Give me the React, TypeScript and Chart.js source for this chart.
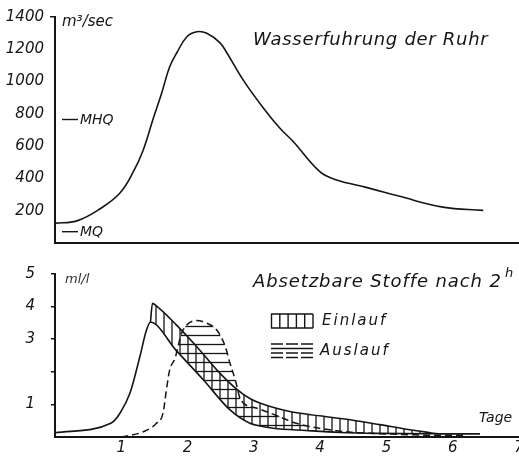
import React, { useEffect, useRef } from 'react';
import { Chart, registerables } from 'chart.js';

Chart.register(...registerables);

const INK = '#151515';
const FONT = '"DejaVu Sans", sans-serif';

// ---------- top chart: discharge of the Ruhr ----------
const flowDays = [0, 0.33, 0.68, 0.98, 1.18, 1.33, 1.48, 1.61, 1.73, 1.84, 1.99, 2.14, 2.29, 2.49, 2.59, 2.84, 3.14, 3.39, 3.59, 4.0, 4.25, 4.71, 5.2, 5.85, 6.46];
const flowValues = [123, 137, 212, 310, 440, 575, 768, 929, 1092, 1180, 1278, 1309, 1299, 1240, 1180, 1009, 838, 712, 630, 440, 390, 343, 289, 222, 202];
const flowYTickLabels = ['', '200', '400', '600', '800', '1000', '1200', '1400'];
const MHQ_VALUE = 765;
const MQ_VALUE = 70;
const MHQ_LABEL = 'MHQ';
const MQ_LABEL = 'MQ';
const TOP_TITLE = 'Wasserfuhrung der Ruhr';
const TOP_UNIT = 'm³/sec';

// ---------- bottom chart: settleable solids ----------
const einLowDays = [0, 0.85, 0.98, 1.13, 1.28, 1.38, 1.44, 1.83, 2.24, 2.64, 2.94, 3.09, 3.29, 3.79, 4.3, 4.9, 5.6, 6.41];
const einLowVals = [0.13, 0.43, 0.73, 1.34, 2.46, 3.28, 3.52, 2.65, 1.75, 0.83, 0.42, 0.34, 0.27, 0.2, 0.14, 0.11, 0.1, 0.1];
const einUpDays = [1.44, 1.47, 1.53, 1.83, 2.14, 2.44, 2.74, 2.94, 3.09, 3.54, 3.99, 4.45, 4.9, 5.3, 5.6, 5.81, 6.41];
const einUpVals = [3.52, 4.1, 4.02, 3.44, 2.77, 2.06, 1.47, 1.18, 1.04, 0.78, 0.65, 0.53, 0.38, 0.24, 0.15, 0.1, 0.1];
const ausDays = [1.0, 1.33, 1.53, 1.63, 1.68, 1.73, 1.81, 1.91, 1.99, 2.14, 2.29, 2.44, 2.57, 2.64, 2.72, 2.8, 3.05, 3.39, 3.64, 4.3, 5.2, 5.8, 6.2];
const ausVals = [0.0, 0.16, 0.42, 0.73, 1.44, 2.06, 2.41, 3.18, 3.44, 3.57, 3.49, 3.28, 2.77, 2.26, 1.75, 1.15, 0.88, 0.62, 0.42, 0.18, 0.08, 0.05, 0.05];
const dayTickLabels = ['', '1', '2', '3', '4', '5', '6', '7'];
const sedYTickLabels = ['', '1', '', '3', '4', '5'];
const BOTTOM_TITLE = 'Absetzbare Stoffe nach 2';
const BOTTOM_TITLE_SUP = 'h';
const BOTTOM_UNIT = 'ml/l';
const X_UNIT = 'Tage';
const LEGEND_IN = 'Einlauf';
const LEGEND_OUT = 'Auslauf';

function pts(xs: number[], ys: number[]) {
  return xs.map((x, i) => ({ x, y: ys[i] }));
}

function makePattern(kind: 'v' | 'h', size: number): CanvasPattern | string {
  const c = document.createElement('canvas');
  c.width = size;
  c.height = size;
  const g = c.getContext('2d');
  if (!g) return INK;
  g.strokeStyle = INK;
  g.lineWidth = 1.3;
  g.beginPath();
  if (kind === 'v') {
    g.moveTo(size / 2, 0);
    g.lineTo(size / 2, size);
  } else {
    g.moveTo(0, size / 2);
    g.lineTo(size, size / 2);
  }
  g.stroke();
  const p = g.createPattern(c, 'repeat');
  return p || INK;
}

const italic = (size: number) => ({ family: FONT, size, style: 'italic' as const, weight: 'normal' as const });

const topDecor = {
  id: 'topDecor',
  afterDraw(chart: any) {
    const { ctx, scales } = chart;
    const y = scales.y;
    ctx.save();
    ctx.fillStyle = INK;
    ctx.strokeStyle = INK;
    ctx.textBaseline = 'alphabetic';
    ctx.textAlign = 'left';
    ctx.font = `italic 15px ${FONT}`;
    ctx.fillText(TOP_UNIT, 62, 26);
    ctx.font = `italic 18px ${FONT}`;
    (ctx as any).letterSpacing = '0.7px';
    ctx.fillText(TOP_TITLE, 253, 45);
    (ctx as any).letterSpacing = '0px';
    ctx.font = `italic 14px ${FONT}`;
    ctx.textBaseline = 'middle';
    ctx.lineWidth = 1.4;
    const markers: [number, string][] = [[MHQ_VALUE, MHQ_LABEL], [MQ_VALUE, MQ_LABEL]];
    markers.forEach(([v, label]) => {
      const py = y.getPixelForValue(v);
      ctx.beginPath();
      ctx.moveTo(62, py);
      ctx.lineTo(78, py);
      ctx.stroke();
      ctx.fillText(label, 80, py + 1);
    });
    ctx.restore();
  },
};

const bottomDecor = {
  id: 'bottomDecor',
  afterDraw(chart: any) {
    const { ctx } = chart;
    ctx.save();
    ctx.fillStyle = INK;
    ctx.strokeStyle = INK;
    ctx.textAlign = 'left';
    ctx.textBaseline = 'alphabetic';
    ctx.fillStyle = '#333';
    ctx.font = `italic 13px ${FONT}`;
    ctx.fillText(BOTTOM_UNIT, 65, 33);
    ctx.fillStyle = INK;
    ctx.font = `italic 18px ${FONT}`;
    (ctx as any).letterSpacing = '0.9px';
    ctx.fillText(BOTTOM_TITLE, 253, 37);
    (ctx as any).letterSpacing = '0px';
    ctx.font = `italic 13px ${FONT}`;
    ctx.fillText(BOTTOM_TITLE_SUP, 505, 27);

    ctx.font = `italic 14px ${FONT}`;
    ctx.fillText(X_UNIT, 479, 172);

    // legend: Einlauf box (vertical hatching)
    ctx.lineWidth = 1.4;
    ctx.beginPath();
    ctx.moveTo(271, 64);
    ctx.lineTo(313, 64);
    ctx.moveTo(271, 78);
    ctx.lineTo(313, 78);
    for (let i = 0; i <= 5; i++) {
      const x = 271.5 + i * 8.3;
      ctx.moveTo(x, 64);
      ctx.lineTo(x, 78);
    }
    ctx.stroke();
    // legend: Auslauf (horizontal lines)
    const rows: [number, boolean][] = [[94, true], [98.5, false], [103, true], [107.5, true]];
    rows.forEach(([ry, dashed]) => {
      ctx.setLineDash(dashed ? [12, 3] : []);
      ctx.beginPath();
      ctx.moveTo(271, ry);
      ctx.lineTo(313, ry);
      ctx.stroke();
    });
    ctx.setLineDash([]);
    ctx.textBaseline = 'middle';
    ctx.font = `italic 15px ${FONT}`;
    (ctx as any).letterSpacing = '2px';
    ctx.fillText(LEGEND_IN, 322, 71);
    ctx.fillText(LEGEND_OUT, 320, 101);
    ctx.restore();
  },
};

export default function App() {
  const topRef = useRef<HTMLCanvasElement | null>(null);
  const botRef = useRef<HTMLCanvasElement | null>(null);

  useEffect(() => {
    if (!topRef.current || !botRef.current) return;

    const top = new Chart(topRef.current, {
      type: 'line',
      data: {
        datasets: [
          {
            data: pts(flowDays, flowValues),
            borderColor: INK,
            borderWidth: 1.6,
            pointRadius: 0,
            tension: 0.4,
            fill: false,
          },
        ],
      },
      options: {
        responsive: false,
        animation: false,
        devicePixelRatio: 1,
        layout: { padding: { top: 17, left: 0, right: 0, bottom: 0 } },
        plugins: { legend: { display: false }, tooltip: { enabled: false }, title: { display: false } },
        scales: {
          x: {
            type: 'linear',
            min: 0,
            max: 7,
            ticks: { display: false },
            grid: { display: false },
            border: { display: true, color: INK, width: 2 },
            afterFit: (s: any) => {
              s.height = 7;
              s.paddingLeft = 0;
              s.paddingRight = 0;
            },
          },
          y: {
            type: 'linear',
            min: 0,
            max: 1400,
            ticks: {
              stepSize: 200,
              color: INK,
              font: italic(15),
              padding: 6,
              callback: (v: any) => flowYTickLabels[Math.round(Number(v) / 200)] ?? '',
            },
            grid: {
              display: true,
              drawOnChartArea: false,
              drawTicks: true,
              tickLength: 5,
              lineWidth: 1.5,
              color: (c: any) => (c.tick && c.tick.value === 1400 ? INK : 'rgba(0,0,0,0)'),
            },
            border: { display: true, color: INK, width: 2 },
            afterFit: (s: any) => {
              s.width = 55;
              s.paddingTop = 0;
              s.paddingBottom = 0;
            },
          },
        },
      } as any,
      plugins: [topDecor],
    });

    const vPat = makePattern('v', 8);
    const hPat = makePattern('h', 9);

    const bot = new Chart(botRef.current, {
      type: 'line',
      data: {
        datasets: [
          {
            data: pts(einLowDays, einLowVals),
            borderColor: INK,
            borderWidth: 1.6,
            pointRadius: 0,
            cubicInterpolationMode: 'monotone',
            fill: false,
          },
          {
            data: pts(einUpDays, einUpVals),
            borderColor: INK,
            borderWidth: 1.6,
            pointRadius: 0,
            cubicInterpolationMode: 'monotone',
            fill: { target: 0, above: vPat, below: vPat },
          },
          {
            data: pts(ausDays, ausVals),
            borderColor: INK,
            borderWidth: 1.5,
            borderDash: [7, 4],
            pointRadius: 0,
            cubicInterpolationMode: 'monotone',
            fill: { target: 0, above: hPat, below: 'rgba(0,0,0,0)' },
          },
        ],
      },
      options: {
        responsive: false,
        animation: false,
        devicePixelRatio: 1,
        layout: { padding: { top: 24, left: 0, right: 0, bottom: 0 } },
        plugins: {
          legend: { display: false },
          tooltip: { enabled: false },
          filler: { drawTime: 'beforeDatasetsDraw' },
        },
        scales: {
          x: {
            type: 'linear',
            min: 0,
            max: 7,
            ticks: {
              stepSize: 1,
              color: INK,
              font: italic(15),
              padding: 2,
              maxRotation: 0,
              autoSkip: false,
              callback: (v: any) => dayTickLabels[Math.round(Number(v))] ?? '',
            },
            grid: { display: false, drawTicks: false },
            border: { display: true, color: INK, width: 2 },
            afterFit: (s: any) => {
              s.height = 21;
              s.paddingLeft = 0;
              s.paddingRight = 0;
            },
          },
          y: {
            type: 'linear',
            min: 0,
            max: 5,
            ticks: {
              stepSize: 1,
              color: INK,
              font: italic(15),
              padding: 16,
              callback: (v: any) => sedYTickLabels[Math.round(Number(v))] ?? '',
            },
            grid: {
              display: true,
              drawOnChartArea: false,
              drawTicks: true,
              tickLength: 4,
              lineWidth: 1.5,
              color: (c: any) => (c.tick && c.tick.value > 0 ? INK : 'rgba(0,0,0,0)'),
            },
            border: { display: true, color: INK, width: 2 },
            afterFit: (s: any) => {
              s.width = 55;
              s.paddingTop = 0;
              s.paddingBottom = 0;
            },
          },
        },
      } as any,
      plugins: [bottomDecor],
    });

    return () => {
      top.destroy();
      bot.destroy();
    };
  }, []);

  return (
    <div style={{ position: 'absolute', left: 0, top: 0, width: 519, height: 458, background: '#fff' }}>
      <canvas ref={topRef} width={519} height={250} style={{ position: 'absolute', left: 0, top: 0 }} />
      <canvas ref={botRef} width={519} height={208} style={{ position: 'absolute', left: 0, top: 250 }} />
    </div>
  );
}
